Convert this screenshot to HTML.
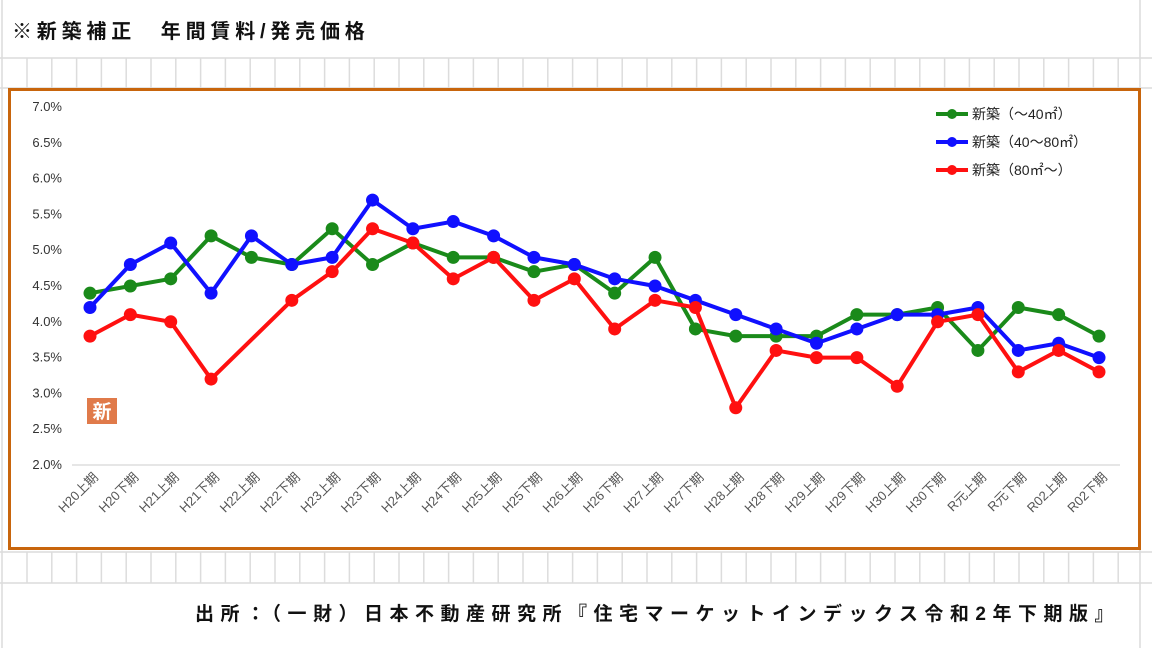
<!DOCTYPE html>
<html><head><meta charset="utf-8"><style>
body{margin:0;width:1152px;height:648px;background:#fff;overflow:hidden;font-family:"Liberation Sans","Noto Sans CJK JP",sans-serif}
</style></head><body>
<svg width="1152" height="648" xmlns="http://www.w3.org/2000/svg" font-family="'Liberation Sans','Noto Sans CJK JP',sans-serif">
<g stroke="#dcdcdc" stroke-width="1.5">
<line x1="2" y1="0" x2="2" y2="648"/>
<line x1="0" y1="58" x2="1152" y2="58"/>
<line x1="0" y1="88" x2="1152" y2="88"/>
<line x1="0" y1="552" x2="1152" y2="552"/>
<line x1="0" y1="583" x2="1152" y2="583"/>
<line x1="1140" y1="0" x2="1140" y2="648"/>
</g>
<g id="cols" stroke="#dcdcdc" stroke-width="1.5"></g>
<text x="12" y="38" font-size="20" font-weight="bold" fill="#111" letter-spacing="4.8">※新築補正　年間賃料/発売価格</text>
<rect x="9.5" y="89.5" width="1130" height="459" fill="#fff" stroke="#c8650c" stroke-width="3"/>
<line x1="72" y1="465" x2="1120" y2="465" stroke="#ddd" stroke-width="1.5"/>
<g id="yl" font-size="13" fill="#333" text-anchor="end"></g>
<g id="xl" font-size="13" fill="#555"></g>
<rect x="87" y="398" width="30" height="26" fill="#e07a4a"/>
<text x="102" y="418" font-size="19" font-weight="bold" fill="#fff" text-anchor="middle">新</text>
<g id="series"></g>
<g font-size="14" fill="#222">
<line x1="936" y1="114" x2="968" y2="114" stroke="#1a8a1a" stroke-width="4"/><circle cx="952" cy="114" r="5" fill="#1a8a1a"/>
<text x="972" y="119">新築（～40㎡）</text>
<line x1="936" y1="142" x2="968" y2="142" stroke="#1010ff" stroke-width="4"/><circle cx="952" cy="142" r="5" fill="#1010ff"/>
<text x="972" y="147">新築（40～80㎡）</text>
<line x1="936" y1="170" x2="968" y2="170" stroke="#ff1010" stroke-width="4"/><circle cx="952" cy="170" r="5" fill="#ff1010"/>
<text x="972" y="175">新築（80㎡～）</text>
</g>
<text x="1120" y="620" font-size="19" font-weight="bold" fill="#111" text-anchor="end" letter-spacing="6.5">出所：（一財）日本不動産研究所『住宅マーケットインデックス令和2年下期版』</text>
</svg>
<script>
const NS="http://www.w3.org/2000/svg";
function el(p,t,a,txt){const e=document.createElementNS(NS,t);for(const k in a)e.setAttribute(k,a[k]);if(txt)e.textContent=txt;document.getElementById(p).appendChild(e);return e;}
for(let x=27;x<1140;x+=24.8){el("cols","line",{x1:x,y1:58,x2:x,y2:88});el("cols","line",{x1:x,y1:552,x2:x,y2:583});}
const Y=v=>465-(v-2)*71.6;
for(let v=2;v<=7.001;v+=0.5)el("yl","text",{x:62,y:Y(v)+4},v.toFixed(1)+"%");
const labs=["H20上期","H20下期","H21上期","H21下期","H22上期","H22下期","H23上期","H23下期","H24上期","H24下期","H25上期","H25下期","H26上期","H26下期","H27上期","H27下期","H28上期","H28下期","H29上期","H29下期","H30上期","H30下期","R元上期","R元下期","R02上期","R02下期"];
const X=i=>90+i*40.36;
labs.forEach((l,i)=>el("xl","text",{x:X(i)+9,y:478,"text-anchor":"end",transform:`rotate(-45 ${X(i)+9} 478)`},l));
const S=[["#1a8a1a",[4.4,4.5,4.6,5.2,4.9,4.8,5.3,4.8,5.1,4.9,4.9,4.7,4.8,4.4,4.9,3.9,3.8,3.8,3.8,4.1,4.1,4.2,3.6,4.2,4.1,3.8]],
["#1010ff",[4.2,4.8,5.1,4.4,5.2,4.8,4.9,5.7,5.3,5.4,5.2,4.9,4.8,4.6,4.5,4.3,4.1,3.9,3.7,3.9,4.1,4.1,4.2,3.6,3.7,3.5]],
["#ff1010",[3.8,4.1,4.0,3.2,null,4.3,4.7,5.3,5.1,4.6,4.9,4.3,4.6,3.9,4.3,4.2,2.8,3.6,3.5,3.5,3.1,4.0,4.1,3.3,3.6,3.3]]];
S.forEach(([c,d])=>{const pts=d.map((v,i)=>v==null?null:[X(i),Y(v)]).filter(p=>p);
el("series","polyline",{points:pts.map(p=>p.join(",")).join(" "),fill:"none",stroke:c,"stroke-width":4,"stroke-linejoin":"round"});
pts.forEach(p=>el("series","circle",{cx:p[0],cy:p[1],r:6.5,fill:c}));});
</script>
</body></html>
